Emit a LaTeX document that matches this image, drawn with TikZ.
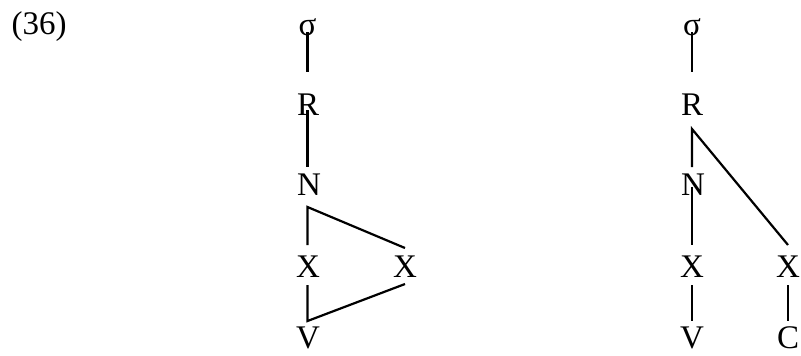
\documentclass[tikz,border=0pt]{standalone}
\usepackage{fontspec}
\setmainfont{Liberation Serif}
\usetikzlibrary{calc}
\tikzset{
  % Tier label (sigma, R, N, X, V, C)
  LB/.style={inner sep=0pt,anchor=base,
             font=\fontsize{16.5pt}{20pt}\selectfont},
  % Association line
  Ln/.style={line width=1.1pt,color=black,line join=miter},
}
\begin{document}
\begin{tikzpicture}[x=0.5pt,y=-0.5pt]
  \useasboundingbox (0,0) rectangle (801,355);
  % Example number
  \node[LB] at (39,34) (exno) {(36)};
  % Left tree — spine at x = 307.5
  \node[LB] at (307.5,35)  (ls)  {σ};
  \node[LB] at (308,115)   (lr)  {R};
  \node[LB] at (309,195)   (ln)  {N};
  \node[LB] at (308,277)   (lx1) {X};
  \node[LB] at (405,277)   (lx2) {X};
  \node[LB] at (308,348)   (lv)  {V};
  \draw[Ln] ($(ls.base)+(0,-3)$) -- ($(lr.base)+(-0.5,-43)$);
  \draw[Ln] ($(lr.base)+(-0.5,-5)$) -- ($(ln.base)+(-1.5,-28)$);
  \draw[Ln] ($(lx1.base)+(-0.5,-32)$) -- ($(ln.base)+(-1.5,12)$)
            -- ($(lx2.base)+(0,-29)$);
  \draw[Ln] ($(lx1.base)+(-0.5,8)$) -- ($(lv.base)+(-0.5,-27)$)
            -- ($(lx2.base)+(0,7)$);
  % Right tree — spine at x = 692
  \node[LB] at (692,35)  (rs)  {σ};
  \node[LB] at (692,115) (rr)  {R};
  \node[LB] at (693,195) (rn)  {N};
  \node[LB] at (692,277) (rx1) {X};
  \node[LB] at (788,277) (rx2) {X};
  \node[LB] at (692,348) (rv)  {V};
  \node[LB] at (788,348) (rc)  {C};
  \draw[Ln] ($(rs.base)+(0,-3)$) -- ($(rr.base)+(0,-43)$);
  \draw[Ln] ($(rn.base)+(-1,-28)$) -- ($(rr.base)+(0,14)$)
            -- ($(rx2.base)+(0,-32)$);
  \draw[Ln] ($(rn.base)+(-1,-8)$) -- ($(rx1.base)+(0,-32)$);
  \foreach \a/\b in {rx1/rv,rx2/rc}
    \draw[Ln] ($(\a.base)+(0,8)$) -- ($(\b.base)+(0,-27)$);
\end{tikzpicture}
\end{document}
